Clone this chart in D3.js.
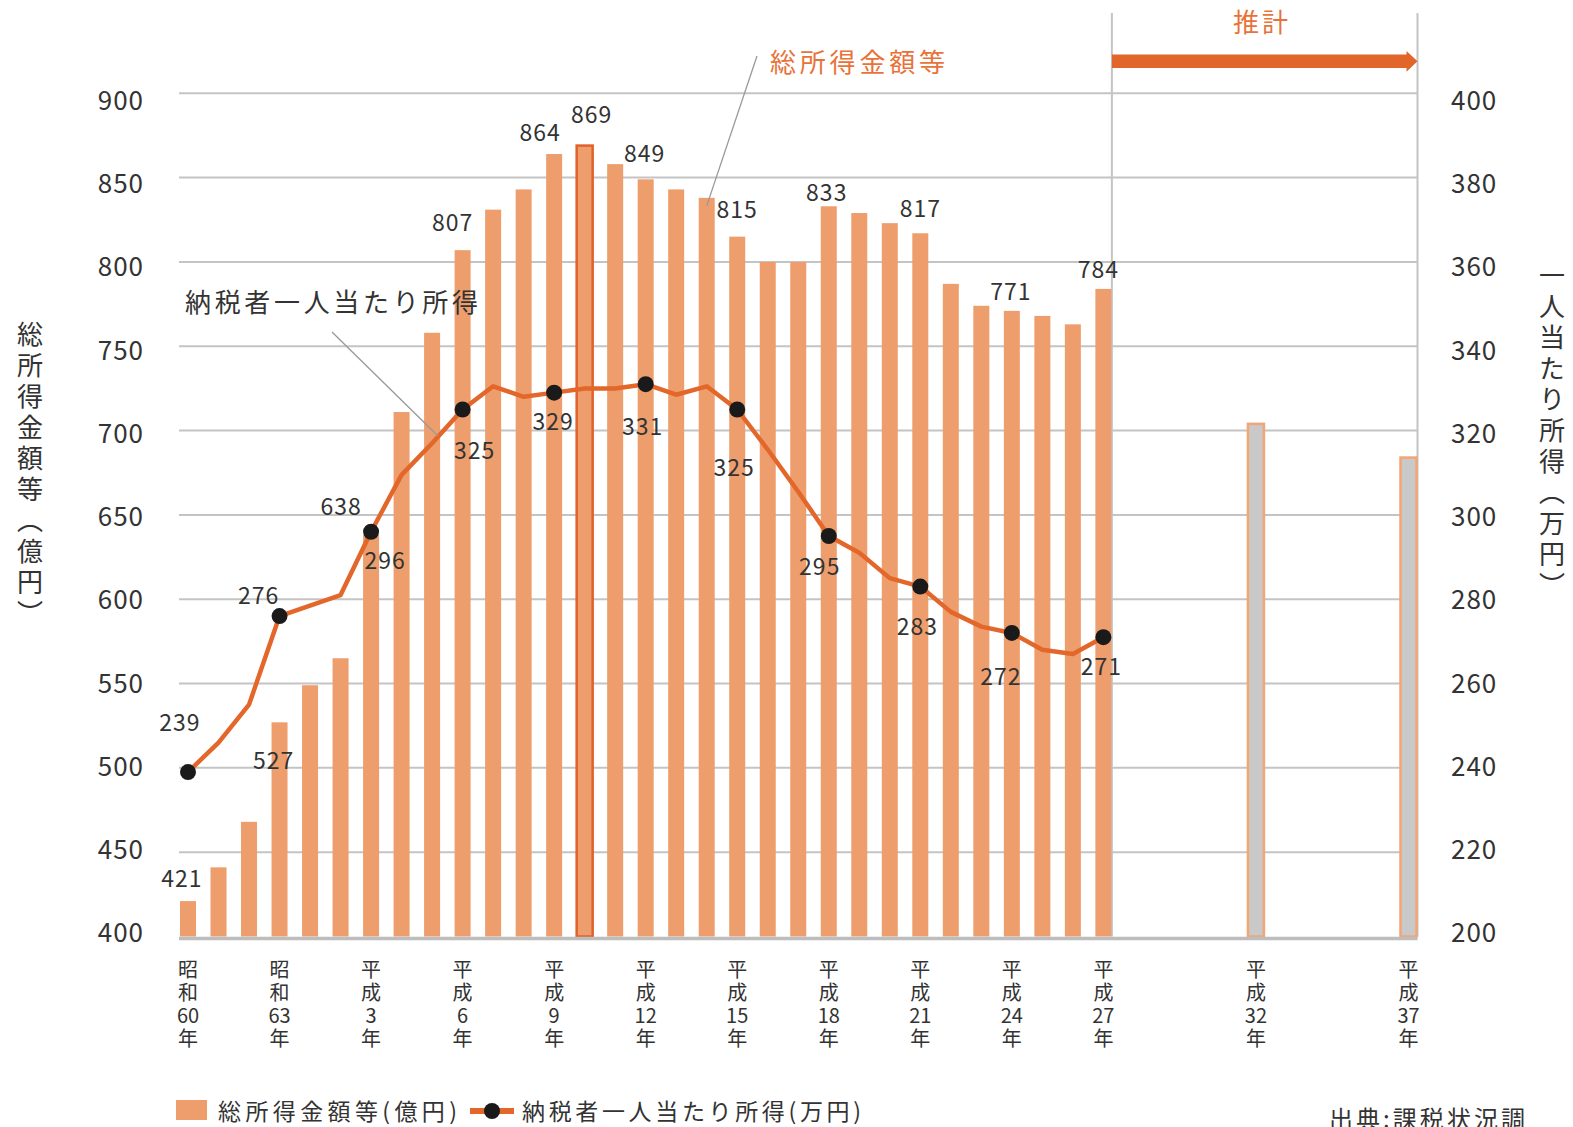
<!DOCTYPE html>
<meta charset="utf-8">
<head>
  <title>総所得金額等と納税者一人当たり所得</title>
</head>

<style>
  body {
    margin: 0;
    background: #fff;
  }
  svg {
    display: block;
    font-family: "Noto Sans CJK JP", "Noto Sans", sans-serif;
  }
  .grid {
    stroke: #c4c4c4;
    stroke-width: 2;
  }
  .tick {
    font-size: 26px;
    fill: #333;
    letter-spacing: 1px;
  }
  .val {
    font-size: 23px;
    fill: #333;
    letter-spacing: 1px;
  }
  .bar {
    fill: #ee9e6c;
  }
  .bar.hi {
    stroke: #e0622a;
    stroke-width: 2.5;
  }
  .bar.proj {
    fill: #c9c9c9;
    stroke: #f3a574;
    stroke-width: 2.5;
  }
  .line {
    fill: none;
    stroke: #e3672a;
    stroke-width: 4.5;
    stroke-linejoin: round;
  }
  .orange {
    fill: #e8733a;
  }
  .title {
    font-size: 26px;
    fill: #333;
    writing-mode: vertical-rl;
    letter-spacing: 5px;
  }
  .xlab {
    font-size: 20px;
    fill: #333;
  }
  .leader {
    stroke: #999;
    stroke-width: 1.3;
  }
</style>

<body>
  <svg width="1573" height="1127"></svg>

  <script src="https://cdn.jsdelivr.net/npm/d3@7"></script>

  <script>
    // data
    var years = [1985, 1986, 1987, 1988, 1989, 1990, 1991, 1992, 1993, 1994,
                 1995, 1996, 1997, 1998, 1999, 2000, 2001, 2002, 2003, 2004,
                 2005, 2006, 2007, 2008, 2009, 2010, 2011, 2012, 2013, 2014, 2015];
    // 総所得金額等 (億円)
    var totalIncome = [421, 441, 468, 527, 549, 565, 638, 711, 758, 807,
                       831, 843, 864, 869, 858, 849, 843, 838, 815, 800,
                       800, 833, 829, 823, 817, 787, 774, 771, 768, 763, 784];
    // 納税者一人当たり所得 (万円)
    var perCapita = [239, 246, 255, 276, 278.5, 281, 296, 309.5, 317, 325,
                     330.5, 328, 329, 330, 330, 331, 328.5, 330.5, 325, 315.5,
                     305.5, 295, 291, 285, 283, 277, 273.5, 272, 268, 267, 271];
    // 推計
    var projYears = [2020, 2025];
    var projIncome = [704, 684];

    var highlightYear = 1998;
    var dotYears = [1985, 1988, 1991, 1994, 1997, 2000, 2003, 2006, 2009, 2012, 2015];
    var barLabelYears = [1985, 1988, 1991, 1994, 1997, 1998, 2000, 2003, 2006, 2009, 2012, 2015];

    var tickYears = [1985, 1988, 1991, 1994, 1997, 2000, 2003, 2006, 2009, 2012, 2015, 2020, 2025];
    var tickLabels = ["昭和60年", "昭和63年", "平成3年", "平成6年", "平成9年", "平成12年",
                      "平成15年", "平成18年", "平成21年", "平成24年", "平成27年",
                      "平成32年", "平成37年"];
    var leftTicks = [400, 450, 500, 550, 600, 650, 700, 750, 800, 850, 900];
    var rightTicks = [200, 220, 240, 260, 280, 300, 320, 340, 360, 380, 400];

    // label nudges (dx, dy) from the mark they belong to
    var barLabelNudge = {1985: [-6, -14], 1988: [-6, 47], 1991: [-30, -20], 1994: [-10, -19],
                         1997: [-14, -13], 1998: [7, -23], 2000: [-1, -17], 2003: [0, -19],
                         2006: [-2, -5], 2009: [0, -16], 2012: [-1, -11], 2015: [-5, -11]};
    var dotLabelNudge = {1985: [-8, -41], 1988: [-21, -12], 1991: [14, 37], 1994: [12, 49],
                         1997: [-1, 37], 2000: [-3, 51], 2003: [-3, 66], 2006: [-9, 39],
                         2009: [-3, 48], 2012: [-11, 52], 2015: [-2, 38]};

    var svg = d3.select("svg");
    var barW = 16;

    var x = d3.scaleLinear().domain([1985, 2025]).range([188, 1408.5]);
    var yL = d3.scaleLinear().domain([400, 900]).range([936.5, 93.3]);
    var yR = d3.scaleLinear().domain([200, 400]).range([936.5, 93.3]);
    // the tick numbers sit a little tighter than the gridlines
    var tickPos = d3.scaleLinear().domain([0, 1]).range([933, 100.5]);

    var sepX = x(2015) + barW / 2 + 0.5;
    var rightX = x(2025) + barW / 2 + 1;
    var gridLeft = 179;

    var bars = years.map(function(y, i) { return {year: y, value: totalIncome[i]}; });
    var proj = projYears.map(function(y, i) { return {year: y, value: projIncome[i]}; });
    var pts = years.map(function(y, i) { return {year: y, value: perCapita[i]}; });

    // gridlines
    svg.append("g").selectAll("line")
      .data(leftTicks.slice(1))
      .enter().append("line")
        .attr("class", "grid")
        .attr("x1", gridLeft).attr("x2", rightX)
        .attr("y1", function(d) { return yL(d); })
        .attr("y2", function(d) { return yL(d); });

    // separators for the projection part
    svg.append("line").attr("class", "grid")
      .attr("x1", sepX).attr("x2", sepX).attr("y1", 13).attr("y2", yL(400));
    svg.append("line").attr("class", "grid")
      .attr("x1", rightX).attr("x2", rightX).attr("y1", 13).attr("y2", yL(400));

    // bars
    svg.append("g").selectAll("rect")
      .data(bars)
      .enter().append("rect")
        .attr("class", function(d) { return d.year === highlightYear ? "bar hi" : "bar"; })
        .attr("x", function(d) { return x(d.year) - barW / 2; })
        .attr("y", function(d) { return yL(d.value); })
        .attr("width", barW)
        .attr("height", function(d) { return yL(400) - yL(d.value); });

    svg.append("g").selectAll("rect")
      .data(proj)
      .enter().append("rect")
        .attr("class", "bar proj")
        .attr("x", function(d) { return x(d.year) - barW / 2; })
        .attr("y", function(d) { return yL(d.value); })
        .attr("width", barW)
        .attr("height", function(d) { return yL(400) - yL(d.value); });

    // baseline
    svg.append("line")
      .attr("x1", gridLeft).attr("x2", rightX)
      .attr("y1", yL(400) + 2).attr("y2", yL(400) + 2)
      .attr("stroke", "#bdbdbd").attr("stroke-width", 3.5);

    // left axis
    svg.append("g").selectAll("text")
      .data(leftTicks)
      .enter().append("text")
        .attr("class", "tick")
        .attr("x", 144)
        .attr("y", function(d, i) { return tickPos(i / (leftTicks.length - 1)); })
        .attr("dy", "0.36em")
        .attr("text-anchor", "end")
        .text(function(d) { return d; });

    // right axis
    svg.append("g").selectAll("text")
      .data(rightTicks)
      .enter().append("text")
        .attr("class", "tick")
        .attr("x", 1451)
        .attr("y", function(d, i) { return tickPos(i / (rightTicks.length - 1)); })
        .attr("dy", "0.36em")
        .text(function(d) { return d; });

    // axis titles
    svg.append("text").attr("class", "title")
      .attr("x", 30).attr("y", 321)
      .text("総所得金額等（億円）");
    svg.append("text").attr("class", "title")
      .attr("x", 1552).attr("y", 262)
      .text("一人当たり所得（万円）");

    // x labels, stacked vertically
    var xl = svg.append("g").selectAll("text")
      .data(tickYears)
      .enter().append("text")
        .attr("class", "xlab")
        .attr("text-anchor", "middle");
    xl.each(function(d, i) {
      var m = tickLabels[i].match(/^(.)(.)(\d+)(年)$/);
      var parts = [m[1], m[2], m[3], m[4]];
      var t = d3.select(this);
      parts.forEach(function(p, k) {
        t.append("tspan")
          .attr("x", x(d))
          .attr("y", 977 + k * 23)
          .text(p);
      });
    });

    // per capita line
    var line = d3.line()
      .x(function(d) { return x(d.year); })
      .y(function(d) { return yR(d.value); });

    svg.append("path")
      .datum(pts)
      .attr("class", "line")
      .attr("d", line);

    var dots = pts.filter(function(d) { return dotYears.indexOf(d.year) >= 0; });
    svg.append("g").selectAll("circle")
      .data(dots)
      .enter().append("circle")
        .attr("cx", function(d) { return x(d.year); })
        .attr("cy", function(d) { return yR(d.value); })
        .attr("r", 8)
        .attr("fill", "#1a1a1a");

    svg.append("g").selectAll("text")
      .data(dots)
      .enter().append("text")
        .attr("class", "val")
        .attr("text-anchor", "middle")
        .attr("x", function(d) { return x(d.year) + dotLabelNudge[d.year][0]; })
        .attr("y", function(d) { return yR(d.value) + dotLabelNudge[d.year][1]; })
        .text(function(d) { return d.value; });

    // bar value labels
    var labelled = bars.filter(function(d) { return barLabelYears.indexOf(d.year) >= 0; });
    svg.append("g").selectAll("text")
      .data(labelled)
      .enter().append("text")
        .attr("class", "val")
        .attr("text-anchor", "middle")
        .attr("x", function(d) { return x(d.year) + barLabelNudge[d.year][0]; })
        .attr("y", function(d) { return yL(d.value) + barLabelNudge[d.year][1]; })
        .text(function(d) { return d.value; });

    // annotations
    svg.append("line").attr("class", "leader")
      .attr("x1", 757).attr("y1", 56)
      .attr("x2", x(2002)).attr("y2", yL(838) + 8);
    svg.append("text").attr("class", "orange")
      .attr("x", 770).attr("y", 72)
      .attr("font-size", 26)
      .attr("textLength", 175).attr("lengthAdjust", "spacing")
      .text("総所得金額等");

    svg.append("line").attr("class", "leader")
      .attr("x1", 332).attr("y1", 332)
      .attr("x2", 438).attr("y2", 436);
    svg.append("text")
      .attr("x", 185).attr("y", 312)
      .attr("font-size", 26).attr("fill", "#333")
      .attr("textLength", 293).attr("lengthAdjust", "spacing")
      .text("納税者一人当たり所得");

    // 推計 arrow
    svg.append("text").attr("class", "orange")
      .attr("x", 1233).attr("y", 32)
      .attr("font-size", 26)
      .attr("textLength", 55).attr("lengthAdjust", "spacing")
      .text("推計");
    svg.append("path")
      .attr("d", "M" + sepX + ",54.5H" + (rightX - 11) + "V51L" + rightX + ",61.3L" +
                 (rightX - 11) + ",71.7V68H" + sepX + "Z")
      .attr("fill", "#e0662a");

    // legend
    var lg = svg.append("g");
    lg.append("rect").attr("x", 176).attr("y", 1100).attr("width", 31).attr("height", 20)
      .attr("class", "bar");
    lg.append("text").attr("x", 218).attr("y", 1120)
      .attr("font-size", 23).attr("fill", "#333")
      .attr("textLength", 239).attr("lengthAdjust", "spacing")
      .text("総所得金額等(億円)");
    lg.append("line").attr("x1", 470).attr("x2", 514).attr("y1", 1111).attr("y2", 1111)
      .attr("stroke", "#e3672a").attr("stroke-width", 6);
    lg.append("circle").attr("cx", 492).attr("cy", 1111).attr("r", 8).attr("fill", "#1a1a1a");
    lg.append("text").attr("x", 522).attr("y", 1120)
      .attr("font-size", 23).attr("fill", "#333")
      .attr("textLength", 339).attr("lengthAdjust", "spacing")
      .text("納税者一人当たり所得(万円)");

    // source (cut by the bottom edge, as in the original)
    svg.append("text").attr("x", 1329).attr("y", 1128)
      .attr("font-size", 24).attr("fill", "#333")
      .attr("textLength", 196).attr("lengthAdjust", "spacing")
      .text("出典:課税状況調");
  </script>
</body>
</html>
